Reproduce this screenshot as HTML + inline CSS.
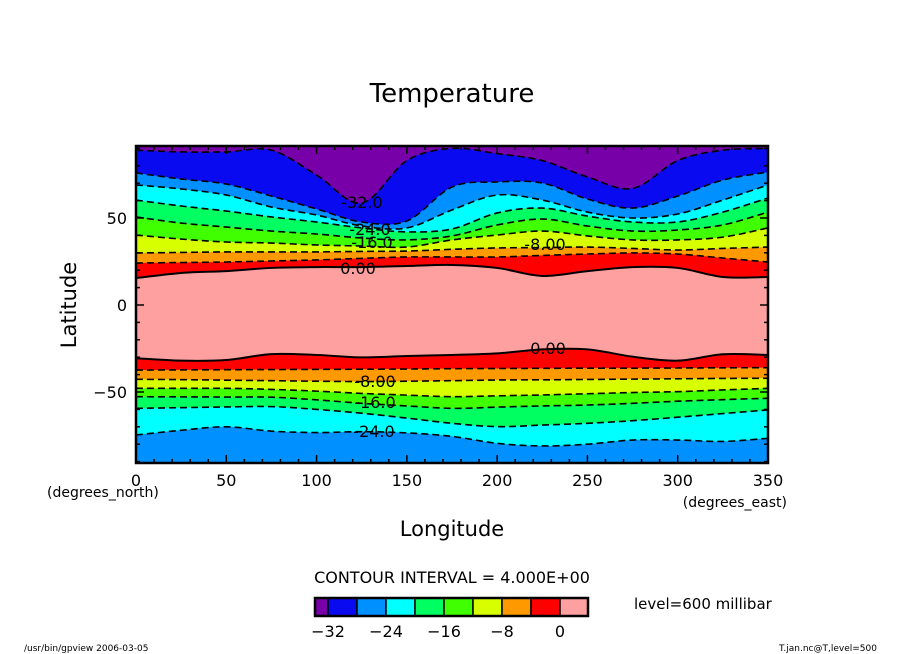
<!DOCTYPE html>
<html><head><meta charset="utf-8"><style>
body{margin:0;background:#fff;width:904px;height:654px;overflow:hidden}
svg{display:block;font-family:"DejaVu Sans","Liberation Sans",sans-serif}
</style></head><body>
<svg id="c" width="904" height="654">
<defs><clipPath id="pc"><rect x="136" y="146" width="632" height="317"/></clipPath></defs>
<text x="452" y="102" font-size="26" text-anchor="middle">Temperature</text>
<g id="fills" clip-path="url(#pc)"></g>
<g id="lines" clip-path="url(#pc)"></g>
<g id="labels"></g>
<g id="axes"></g>
<text x="452" y="536" font-size="21" text-anchor="middle">Longitude</text>
<text x="76" y="305" font-size="21" text-anchor="middle" transform="rotate(-90 76 305)">Latitude</text>
<text x="47" y="497" font-size="14">(degrees_north)</text>
<text x="787" y="507" font-size="14" text-anchor="end">(degrees_east)</text>
<text x="452" y="583" font-size="16" text-anchor="middle">CONTOUR INTERVAL = 4.000E+00</text>
<text x="634" y="609" font-size="15">level=600 millibar</text>
<text x="24" y="651" font-size="9">/usr/bin/gpview   2006-03-05</text>
<text x="877" y="651" font-size="9" text-anchor="end">T.jan.nc@T,level=500</text>
<g id="cbar"></g>
</svg>
<script>
const lons=[0,25,50,75,100,125,150,175,200,225,250,275,300,325,350];
const levels=[-32,-28,-24,-20,-16,-12,-8,-4,0];
const north_m32=[89,88,88,89,74.7,58.6,83,90,87,83,73.6,67,83,89,90];
const north_m28=[75.9,72.4,69.5,62.6,55.2,47.7,48.3,67.8,70.7,70.1,60.9,55.7,62.6,71.8,76.4];
const north_m24=[69,66.7,63.2,56.3,51.7,45.4,44.3,54.6,63.2,60.3,53.4,50,52.3,60.3,69];
const north_m20=[60.3,56.9,54,50.6,47.7,44.3,42,43.7,52.9,55.7,51.1,47.7,47.7,53.4,61.5];
const north_m16=[50.6,47.1,44.8,42.5,40.8,38.5,37.4,39.7,46,49.4,45.4,42.5,43.1,46,53.4];
const north_m12=[40.2,37.9,36.2,35.6,34.5,33.9,33.3,37.4,40.2,42.5,39.7,37.4,37.4,39,44.3];
const north_m8=[29.9,30.2,30.5,30.5,30.5,30.8,31,32,32.8,33,33.3,32.5,31.6,32.5,33.3];
const north_m4=[24.1,24.4,24.7,25.3,25.9,26.8,27.6,27.6,27.6,28.5,29.3,29.9,29.3,27,24.7];
const north_0=[15.5,18.4,19.5,21.3,21.8,21.8,22.4,23,21.3,16.7,19.5,21.8,21.3,16.1,16.1];
const south_0=[-30.6,-32,-31.6,-28.2,-28.7,-30.1,-29.3,-28.7,-27.8,-25.5,-25.5,-29.7,-32,-28.3,-28.7];
const south_m4=[-37.4,-37.3,-37.2,-37.1,-37,-36.9,-36.8,-36.6,-36.5,-36.4,-36.3,-36.3,-36.2,-36.1,-36];
const south_m8=[-42.7,-42.9,-43.2,-43.5,-43.8,-44,-43.8,-43.5,-43.1,-43,-42.8,-42.6,-42.4,-42.2,-42.1];
const south_m12=[-47.9,-47.9,-47.9,-48.5,-49.5,-50.8,-51.8,-52.7,-52.2,-51.7,-51,-50.3,-49.8,-48.8,-47.9];
const south_m16=[-52.7,-52.8,-52.9,-53,-54.5,-56.5,-58,-59.4,-58.7,-58,-57.5,-56.5,-55.3,-54.4,-53.6];
const south_m20=[-59.4,-59,-58.6,-58.4,-60,-62.2,-65,-68,-69.9,-69,-68,-66.5,-64.5,-62.4,-60.3];
const south_m24=[-74.7,-72,-70,-72.5,-73.3,-72.8,-73.5,-75.5,-79.5,-81,-80,-77.6,-77.6,-78.4,-76.6];
const xTicks=[0,50,100,150,200,250,300,350];
const yTicks=[50,0,-50];
const cbarLabels=["−32","−24","−16","−8","0"];
const colors=["#7800a8","#0a0af0","#0090ff","#00ffff","#00ff60","#40ff00","#d8ff00","#ff9900","#ff0000","#ffa0a0"];

const X=l=>136+l*(632/350);
const Y=la=>305-la*1.74;
const NS="http://www.w3.org/2000/svg";
function mk(t,a,p){const e=document.createElementNS(NS,t);for(const k in a)e.setAttribute(k,a[k]);p.appendChild(e);return e;}
function curve(arr){
  const p=lons.map((l,i)=>[X(l),Y(arr[i])]);
  let d="M"+p[0][0]+","+p[0][1];
  for(let i=0;i<p.length-1;i++){
    const p0=p[Math.max(0,i-1)],p1=p[i],p2=p[i+1],p3=p[Math.min(p.length-1,i+2)];
    d+=" C"+(p1[0]+(p2[0]-p0[0])/6)+","+(p1[1]+(p2[1]-p0[1])/6)+" "+(p2[0]-(p3[0]-p1[0])/6)+","+(p2[1]-(p3[1]-p1[1])/6)+" "+p2[0]+","+p2[1];
  }
  return d;
}
const fills=document.getElementById('fills'),lines=document.getElementById('lines');
let r=mk('rect',{x:136,y:146,width:632,height:317,fill:colors[9]},fills);


const north=[north_0,north_m4,north_m8,north_m12,north_m16,north_m20,north_m24,north_m28,north_m32];
const south=[south_0,south_m4,south_m8,south_m12,south_m16,south_m20,south_m24];
north.forEach((arr,i)=>{
  const c=curve(arr);
  const e=mk('path',{d:c+" L"+X(350)+",140 L"+X(0)+",140 Z",fill:colors[8-i]},fills);
  
  
});
south.forEach((arr,i)=>{
  const c=curve(arr);
  const e=mk('path',{d:c+" L"+X(350)+",470 L"+X(0)+",470 Z",fill:colors[8-i]},fills);
  
  
});
[...north,...south].forEach((arr,i)=>{
  const isZero=(i===0||i===north.length);
  const e=mk('path',{d:curve(arr),fill:"none",stroke:"#000","stroke-width":isZero?2:1.6,"stroke-dasharray":isZero?"none":"7,4"},lines);
  
  
});
const labs=document.getElementById('labels');
[["-32.0",362,208],["-24.0",370,235],["-16.0",372,248],["0.00",358,274],["-8.00",545,250],["0.00",548,354],["-8.00",375,387],["-16.0",375,408],["-24.0",374,437]].forEach(l=>{
  const t=mk('text',{x:l[1],y:l[2],"font-size":16,"text-anchor":"middle"},labs);t.textContent=l[0];
  
  
});
const ax=document.getElementById('axes');
let fr=mk('rect',{x:136,y:146,width:632,height:317,fill:"none",stroke:"#000","stroke-width":2.5},ax);


for(let l=0;l<=350;l+=10){const maj=l%50===0,len=maj?8:4;
  mk('line',{x1:X(l),x2:X(l),y1:463,y2:463-len,stroke:"#000","stroke-width":1.5},ax);
  mk('line',{x1:X(l),x2:X(l),y1:146,y2:146+len,stroke:"#000","stroke-width":1.5},ax);}
for(let la=-90;la<=90;la+=10){const maj=la%50===0,len=maj?8:4;
  mk('line',{x1:136,x2:136+len,y1:Y(la),y2:Y(la),stroke:"#000","stroke-width":1.5},ax);
  mk('line',{x1:768,x2:768-len,y1:Y(la),y2:Y(la),stroke:"#000","stroke-width":1.5},ax);}
xTicks.forEach(v=>{const t=mk('text',{x:X(v),y:486,"font-size":16,"text-anchor":"middle"},ax);t.textContent=v;
  
  });
yTicks.forEach(v=>{const t=mk('text',{x:127,y:Y(v)+6,"font-size":16,"text-anchor":"end"},ax);t.textContent=v<0?"−"+(-v):v;
  
  });
const cb=document.getElementById('cbar');
const cx=[315,328,357,386,415,444,473,502,531,560,588];
colors.forEach((c,i)=>{const e=mk('rect',{x:cx[i],y:598,width:cx[i+1]-cx[i],height:18,fill:c,stroke:"#000","stroke-width":1.5},cb);
  
  });
mk('rect',{x:315,y:598,width:273,height:18,fill:"none",stroke:"#000","stroke-width":2.5},cb);
cbarLabels.forEach((s,i)=>{const t=mk('text',{x:cx[1+2*i],y:637,"font-size":16,"text-anchor":"middle"},cb);t.textContent=s;
  
  });
</script>
</body></html>
